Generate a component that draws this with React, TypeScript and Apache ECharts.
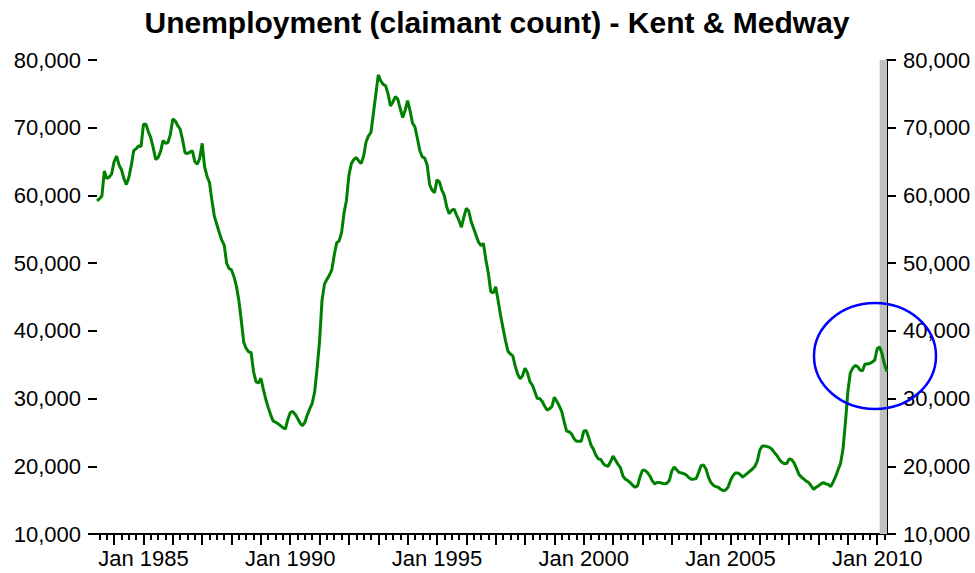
import React, { useEffect, useRef } from 'react';
import * as echarts from 'echarts';

const TITLE = 'Unemployment (claimant count) - Kent & Medway';
const MONTHS = ['Jan', 'Feb', 'Mar', 'Apr', 'May', 'Jun', 'Jul', 'Aug', 'Sep', 'Oct', 'Nov', 'Dec'];
const START_YEAR = 1983;
const START_MONTH = 5; // June (0-based)

// Monthly claimant count, Kent & Medway
const v1983 = [59200, 59500, 59900, 63600, 62500, 62700, 63200]; // Jun-Dec
const v1984 = [65000, 65800, 64500, 63800, 62500, 61600, 62600, 64400, 66600, 66900, 67300, 67200];
const v1985 = [70500, 70500, 69400, 68500, 67000, 65300, 65600, 66500, 68100, 67700, 67800, 69000];
const v1986 = [71300, 71000, 70300, 69800, 68200, 66300, 66200, 66400, 66600, 65000, 64600, 65500];
const v1987 = [67700, 64200, 62800, 61900, 59200, 56900, 55700, 54500, 53400, 52700, 50000, 49200];
const v1988 = [49000, 48000, 46600, 44500, 41500, 38300, 37400, 36900, 36800, 34000, 32500, 32300];
const v1989 = [33000, 31400, 29900, 28700, 27600, 26700, 26500, 26300, 26000, 25700, 25500, 26900];
const v1990 = [27900, 28100, 27700, 27100, 26400, 26000, 26500, 27600, 28500, 29300, 31000, 34500];
const v1991 = [38500, 44500, 46900, 47600, 48200, 49000, 51200, 53000, 53300, 54500, 57400, 59300];
const v1992 = [63000, 64700, 65300, 65600, 65100, 64700, 65800, 67900, 68800, 69300, 72100, 74900];
const v1993 = [77800, 76900, 76400, 76200, 75000, 73200, 73800, 74600, 74200, 72800, 71500, 72600];
const v1994 = [74000, 72500, 70700, 70100, 68400, 66600, 65700, 65500, 64500, 61600, 60800, 60400];
const v1995 = [62300, 62000, 60800, 60000, 58300, 57300, 57800, 58000, 57100, 56300, 55300, 56800];
const v1996 = [58100, 57700, 56100, 55100, 54100, 53100, 52600, 52900, 50500, 48500, 45800, 45600];
const v1997 = [46500, 44500, 42300, 40400, 38600, 37000, 36600, 36300, 34800, 33600, 32900, 33400];
const v1998 = [34500, 33800, 32500, 32000, 31000, 30000, 30000, 29600, 28900, 28300, 28500, 28800];
const v1999 = [30200, 29600, 28900, 28100, 26600, 25200, 25100, 24800, 24100, 23700, 23700, 23700];
const v2000 = [25200, 25300, 24300, 23100, 22500, 21600, 21100, 21000, 20400, 20100, 20000, 20700];
const v2001 = [21500, 20900, 20300, 19800, 18600, 18100, 17900, 17600, 17200, 16900, 17100, 18400];
const v2002 = [19400, 19400, 19100, 18600, 17900, 17400, 17600, 17600, 17500, 17400, 17500, 17900];
const v2003 = [19300, 19900, 19500, 19100, 19000, 18900, 18700, 18300, 18100, 18100, 18200, 19100];
const v2004 = [20100, 20200, 19600, 18400, 17600, 17200, 17000, 16900, 16600, 16400, 16500, 16900];
const v2005 = [17900, 18600, 19000, 19000, 18800, 18400, 18700, 19000, 19300, 19600, 20000, 20800];
const v2006 = [22400, 23000, 23000, 22900, 22800, 22500, 22000, 21600, 21000, 20600, 20400, 20400];
const v2007 = [21100, 21000, 20500, 19700, 18800, 18400, 18100, 17800, 17600, 17100, 16600, 16900];
const v2008 = [17100, 17400, 17600, 17400, 17300, 17000, 17700, 18500, 19500, 20400, 22500, 26500];
const v2009 = [31000, 33800, 34500, 34900, 34700, 34200, 34100, 35100, 35100, 35200, 35400, 35700];
const v2010 = [37400, 37600, 36600, 35000, 34000]; // Jan-May

const claimants: number[] = [
  ...v1983, ...v1984, ...v1985, ...v1986, ...v1987, ...v1988, ...v1989, ...v1990,
  ...v1991, ...v1992, ...v1993, ...v1994, ...v1995, ...v1996, ...v1997, ...v1998,
  ...v1999, ...v2000, ...v2001, ...v2002, ...v2003, ...v2004, ...v2005, ...v2006,
  ...v2007, ...v2008, ...v2009, ...v2010,
];

const categories: string[] = claimants.map((_, i) => {
  const m = START_MONTH + i;
  return `${MONTHS[m % 12]} ${START_YEAR + Math.floor(m / 12)}`;
});

const LABEL_YEARS = [1985, 1990, 1995, 2000, 2005, 2010];
const Y_MIN = 10000;
const Y_MAX = 80000;
const Y_STEP = 10000;
const SHADE_FROM = 'Feb 2010';
const SHADE_TO = 'May 2010';

const FONT = '"Liberation Sans", Arial, Helvetica, sans-serif';

export default function App() {
  const ref = useRef<HTMLDivElement>(null);

  useEffect(() => {
    document.body.style.margin = '0';
    if (!ref.current) return;
    const chart = echarts.init(ref.current, null, { renderer: 'svg' });

    const fmt = (v: number) => v.toLocaleString('en-US');
    const isQuarter = (_i: number, v: string) => /^(Jan|Apr|Jul|Oct)/.test(v);
    const isYear = (_i: number, v: string) => v.startsWith('Jan');
    const isLabel = (_i: number, v: string) =>
      v.startsWith('Jan') && LABEL_YEARS.includes(Number(v.slice(4)));

    const yAxisCommon = {
      type: 'value',
      min: Y_MIN,
      max: Y_MAX,
      interval: Y_STEP,
      splitLine: { show: false },
      axisTick: { show: true, length: 9, lineStyle: { color: '#000', width: 2 } },
      axisLabel: { margin: 16, fontSize: 22, color: '#000', fontFamily: FONT, formatter: fmt },
    };

    chart.setOption({
      animation: false,
      backgroundColor: '#ffffff',
      textStyle: { fontFamily: FONT },
      grid: { left: 97, right: 88, top: 60, bottom: 39 },
      xAxis: [
        {
          type: 'category',
          data: categories,
          boundaryGap: false,
          position: 'bottom',
          axisLine: { show: true, lineStyle: { color: '#000', width: 2 } },
          axisTick: { show: true, interval: isQuarter, length: 6, lineStyle: { color: '#000', width: 2 } },
          axisLabel: { show: false },
          splitLine: { show: false },
        },
        {
          type: 'category',
          data: categories,
          boundaryGap: false,
          position: 'bottom',
          axisLine: { show: false },
          axisTick: { show: true, interval: isYear, length: 11, lineStyle: { color: '#000', width: 2 } },
          axisLabel: {
            show: true,
            interval: isLabel,
            margin: 13,
            fontSize: 22,
            color: '#000',
            fontFamily: FONT,
            formatter: (v: string) => v,
          },
          splitLine: { show: false },
        },
      ],
      yAxis: [
        { ...yAxisCommon, position: 'left', axisLine: { show: false } },
        { ...yAxisCommon, position: 'right', axisLine: { show: true, lineStyle: { color: '#000', width: 2 } } },
      ],
      series: [
        {
          type: 'line',
          data: claimants,
          xAxisIndex: 0,
          yAxisIndex: 0,
          symbol: 'none',
          showSymbol: false,
          lineStyle: { color: '#008000', width: 3 },
          itemStyle: { color: '#008000' },
          z: 3,
          markArea: {
            silent: true,
            itemStyle: { color: '#c0c0c0' },
            data: [[{ xAxis: SHADE_FROM }, { xAxis: SHADE_TO }]],
          },
        },
      ],
      graphic: [
        {
          type: 'text',
          x: 497,
          y: 22,
          z: 100,
          style: {
            text: TITLE,
            fill: '#000',
            fontSize: 30,
            fontWeight: 'bold',
            fontFamily: FONT,
            align: 'center',
            verticalAlign: 'middle',
          },
        },
        {
          type: 'ellipse',
          z: 100,
          shape: { cx: 875, cy: 356, rx: 61, ry: 53 },
          style: { fill: 'none', stroke: '#0000ff', lineWidth: 2.5 },
        },
      ],
    });

    return () => chart.dispose();
  }, []);

  return <div ref={ref} style={{ width: 975, height: 573 }} />;
}
